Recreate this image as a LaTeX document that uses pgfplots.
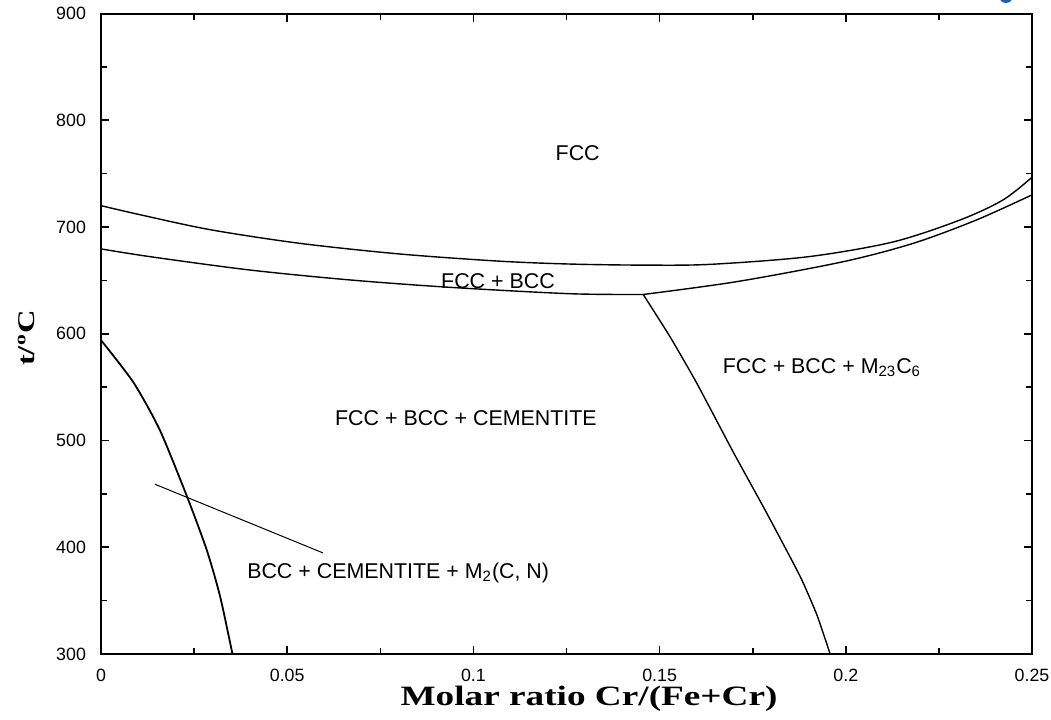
\documentclass[border=0pt]{standalone}
\usepackage{graphicx}
\usepackage{pgfplots}
\pgfplotsset{compat=1.18}
\usepackage{fontspec}
\setmainfont{Liberation Sans}
\newfontfamily\timesfont{Liberation Serif}
\definecolor{logoblue}{HTML}{1F5FA8}
\begin{document}
\begin{tikzpicture}
\useasboundingbox (0,0) rectangle (525.5pt,359.5pt);
\fill[logoblue] (503pt,361.5pt) circle (3.5pt);
\begin{axis}[
  at={(50.5pt,32.5pt)}, anchor=south west,
  scale only axis, width=465.5pt, height=320.25pt,
  xmin=0, xmax=0.25, ymin=300, ymax=900,
  xtick={0,0.05,0.1,0.15,0.2,0.25},
  ytick={300,400,500,600,700,800,900},
  minor x tick num=1, minor y tick num=1,
  tick align=inside, major tick length=4pt, minor tick length=3pt,
  axis line style={line width=1pt},
  every tick/.style={black, line width=0.8pt},
  scaled x ticks=false,
  xticklabel shift=4pt,
  yticklabel shift=4pt,
  tick label style={font=\fontsize{8.9}{10}\selectfont},
  /pgf/number format/assume math mode=true,
  /pgf/number format/fixed,
  /pgf/number format/precision=2,
  clip=true,
]
% upper boundary FCC / FCC+BCC
\addplot[black, line width=0.7pt, smooth, tension=0.5] coordinates {
(0,720) (0.0105,711.5) (0.0293,697.5) (0.0534,684.7) (0.0803,674.7) (0.107,668)
(0.126,665.3) (0.1455,664.3) (0.1635,665) (0.190,672.2) (0.2127,686)
(0.2307,706.6) (0.2422,725.3) (0.25,746.6)};
% lower boundary FCC+BCC / three-phase (left part)
\addplot[black, line width=0.7pt, smooth, tension=0.5] coordinates {
(0,679.5) (0.0132,672.2) (0.040,659.7) (0.0669,650.4) (0.0937,643.5) (0.126,637.5) (0.1456,636.8)};
% lower boundary (right part)
\addplot[black, line width=0.7pt, smooth, tension=0.5] coordinates {
(0.1456,636.8) (0.1707,648.8) (0.1993,667.5) (0.2181,684.7) (0.2351,706.6) (0.2503,730.6)};
% left curve (cementite / M2(C,N))
\addplot[black, line width=0.9pt, smooth, tension=0.4] coordinates {
(0,594) (0.0087,554.5) (0.0158,509.8) (0.023,448.4) (0.0284,397.4) (0.032,353.7) (0.0353,300)};
% right curve (M23C6)
\addplot[black, line width=0.7pt, smooth, tension=0.3] coordinates {
(0.1456,636.8) (0.1528,597.2) (0.160,553.6) (0.1698,489) (0.1788,431.8) (0.1877,373) (0.1922,337) (0.1958,300)};
% tie line
\addplot[black, line width=0.5pt] coordinates {(0.0145,459) (0.0596,394.7)};
\node[font=\fontsize{10.7}{12}\selectfont] at (axis cs:0.128,769) {FCC};
\node[font=\fontsize{10.7}{12}\selectfont] at (axis cs:0.1066,649) {FCC + BCC};
\node[font=\fontsize{10.7}{12}\selectfont] at (axis cs:0.1936,568) {FCC + BCC + M\textsubscript{23}C\textsubscript{6}};
\node[font=\fontsize{10.7}{12}\selectfont] at (axis cs:0.098,521) {FCC + BCC + CEMENTITE};
\node[font=\fontsize{10.7}{12}\selectfont] at (axis cs:0.0798,376) {BCC + CEMENTITE + M\textsubscript{2}(C, N)};
\end{axis}
\node[font=\timesfont\bfseries\fontsize{14}{16}\selectfont] at (294.5pt,10pt) {\scalebox{1.33}[1]{Molar ratio Cr/(Fe+Cr)}};
\node[font=\timesfont\bfseries\fontsize{12}{14}\selectfont, rotate=90] at (13pt,190.5pt) {\scalebox{1.36}[1]{t/\textsuperscript{o}C}};
\end{tikzpicture}
\end{document}
